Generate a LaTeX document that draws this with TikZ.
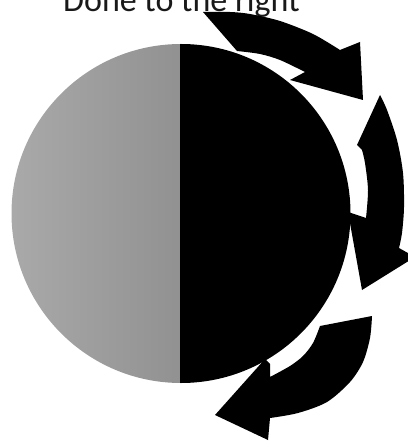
\documentclass[tikz,border=0pt]{standalone}
\usepackage{fontspec}
\setmainfont{Carlito}

\begin{document}
\begin{tikzpicture}[x=1pt,y=-1pt,turn/.style={fill=black}]
  \useasboundingbox (0,0) rectangle (407,443);
  % title
  \node[anchor=base west,inner sep=0pt,text=black!90,font=\fontsize{34}{40}\selectfont] (title) at (63,12) {Done to the right};
  % moon
  \coordinate (c) at (181,213.5);
  \begin{scope}
    \clip (c) circle (169.5);
    \shade[left color=black!33,right color=black!43] (0,0) rectangle (179.5,443);
    \fill[black] (179.5,0) rectangle (407,443);
  \end{scope}
  % top arrow
  \fill[turn] plot[smooth] coordinates {(203,12) (230,12) (250,14) (280,21) (313,34) (340,50)}
    -- (360,42) -- (363,100) -- (290,80) -- (305,72)
    -- plot[smooth] coordinates {(305,72) (280,60) (260,54) (237,51)} -- cycle;
  % right arrow
  \fill[turn] plot[smooth] coordinates {(380,95) (387,110) (397,140) (403,173) (404,207) (402,233) (399,248)}
    -- (415,257) -- (362,290) -- (348,212) -- (366,218)
    -- plot[smooth] coordinates {(366,218) (368,190) (365,163) (362,150)} -- (357,145) -- cycle;
  % bottom arrow
  \fill[turn] (320,326) -- plot[smooth] coordinates {(372,316) (370,338) (363,362) (350,382) (327,402) (298,413) (270,418)}
    -- (268,440) -- (215,415) -- (265,359) -- (270,364) -- (270,377)
    -- plot[smooth] coordinates {(270,377) (290,366) (303,356) (313,343) (320,326)} -- cycle;
\end{tikzpicture}
\end{document}
